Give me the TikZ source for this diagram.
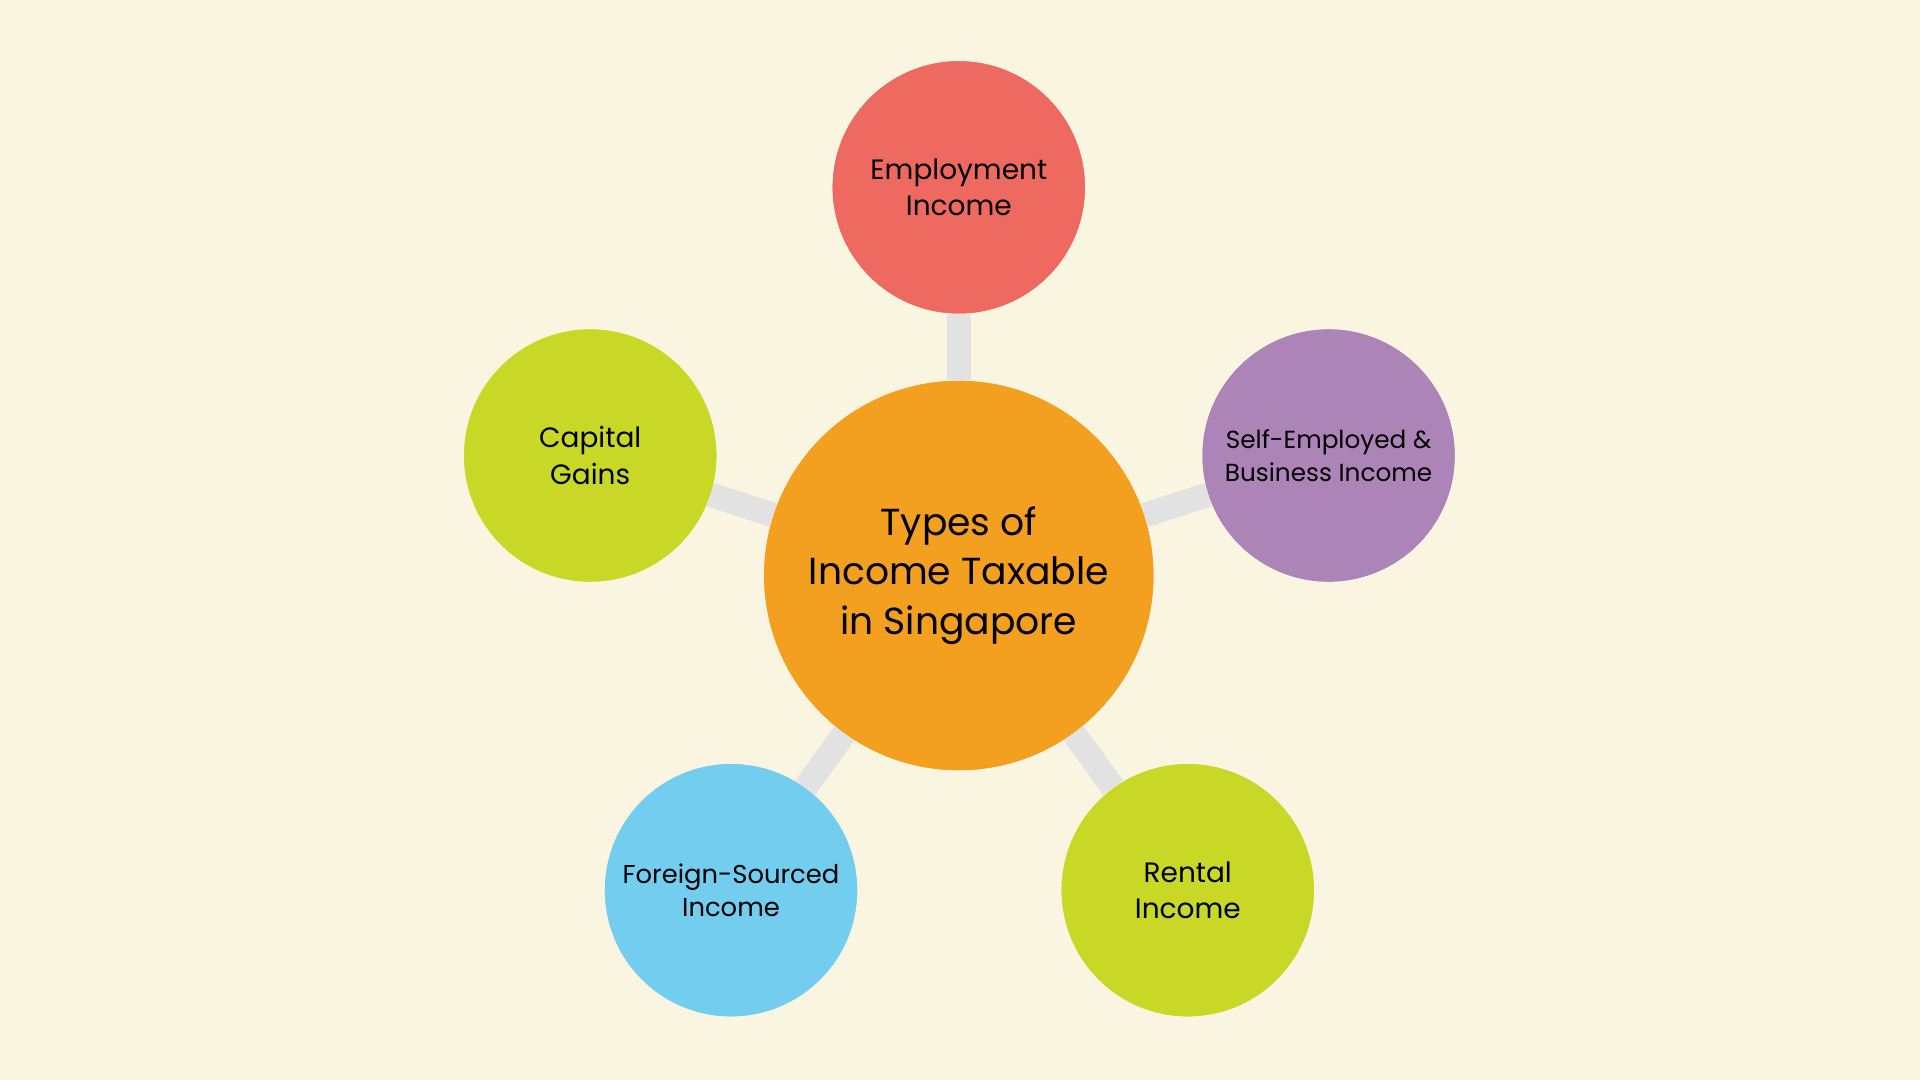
\documentclass[tikz,border=0pt]{standalone}
\usepackage{fontspec}
\setmainfont{Poppins}
\begin{document}
\begin{tikzpicture}[x=0.02cm,y=-0.02cm,
  bub/.style={circle,minimum size=4.12cm,inner sep=0pt,align=center,font=\fontsize{13}{17}\selectfont},
  link/.style={line width=0.4cm,draw={rgb,255:red,226;green,226;blue,226}}]
\definecolor{bg}{RGB}{250,245,224}
\definecolor{cOr}{RGB}{243,159,31}
\definecolor{cRed}{RGB}{238,106,96}
\definecolor{cPur}{RGB}{172,132,183}
\definecolor{cGrn}{RGB}{201,216,38}
\definecolor{cBlu}{RGB}{114,205,239}
\fill[bg] (0,0) rectangle (1568,882);
\useasboundingbox (0,0) rectangle (1568,882);
\node[bub,fill=cOr,minimum size=6.36cm,font=\fontsize{17.5}{23}\selectfont] (c) at (783,470) {Types of\\Income Taxable\\in Singapore};
\node[bub,fill=cRed] (e) at (783,153) {Employment\\Income};
\node[bub,fill=cPur,font=\fontsize{11.5}{15.5}\selectfont] (s) at (1085,372) {Self-Employed \&\\Business Income};
\node[bub,fill=cGrn] (r) at (970,727) {Rental\\Income};
\node[bub,fill=cBlu,font=\fontsize{12}{15.5}\selectfont] (f) at (597,727) {Foreign-Sourced\\Income};
\node[bub,fill=cGrn] (g) at (482,372) {Capital\\Gains};
\begin{scope}[on background layer/.style={}]
\end{scope}
\foreach \n in {e,s,r,f,g}{\draw[link] (c) -- (\n);}
\node[bub,fill=cOr,minimum size=6.36cm,font=\fontsize{17.5}{23}\selectfont] at (783,470) {Types of\\Income Taxable\\in Singapore};
\node[bub,fill=cRed] at (783,153) {Employment\\Income};
\node[bub,fill=cPur,font=\fontsize{11.5}{15.5}\selectfont] at (1085,372) {Self-Employed \&\\Business Income};
\node[bub,fill=cGrn] at (970,727) {Rental\\Income};
\node[bub,fill=cBlu,font=\fontsize{12}{15.5}\selectfont] at (597,727) {Foreign-Sourced\\Income};
\node[bub,fill=cGrn] at (482,372) {Capital\\Gains};
\end{tikzpicture}
\end{document}
